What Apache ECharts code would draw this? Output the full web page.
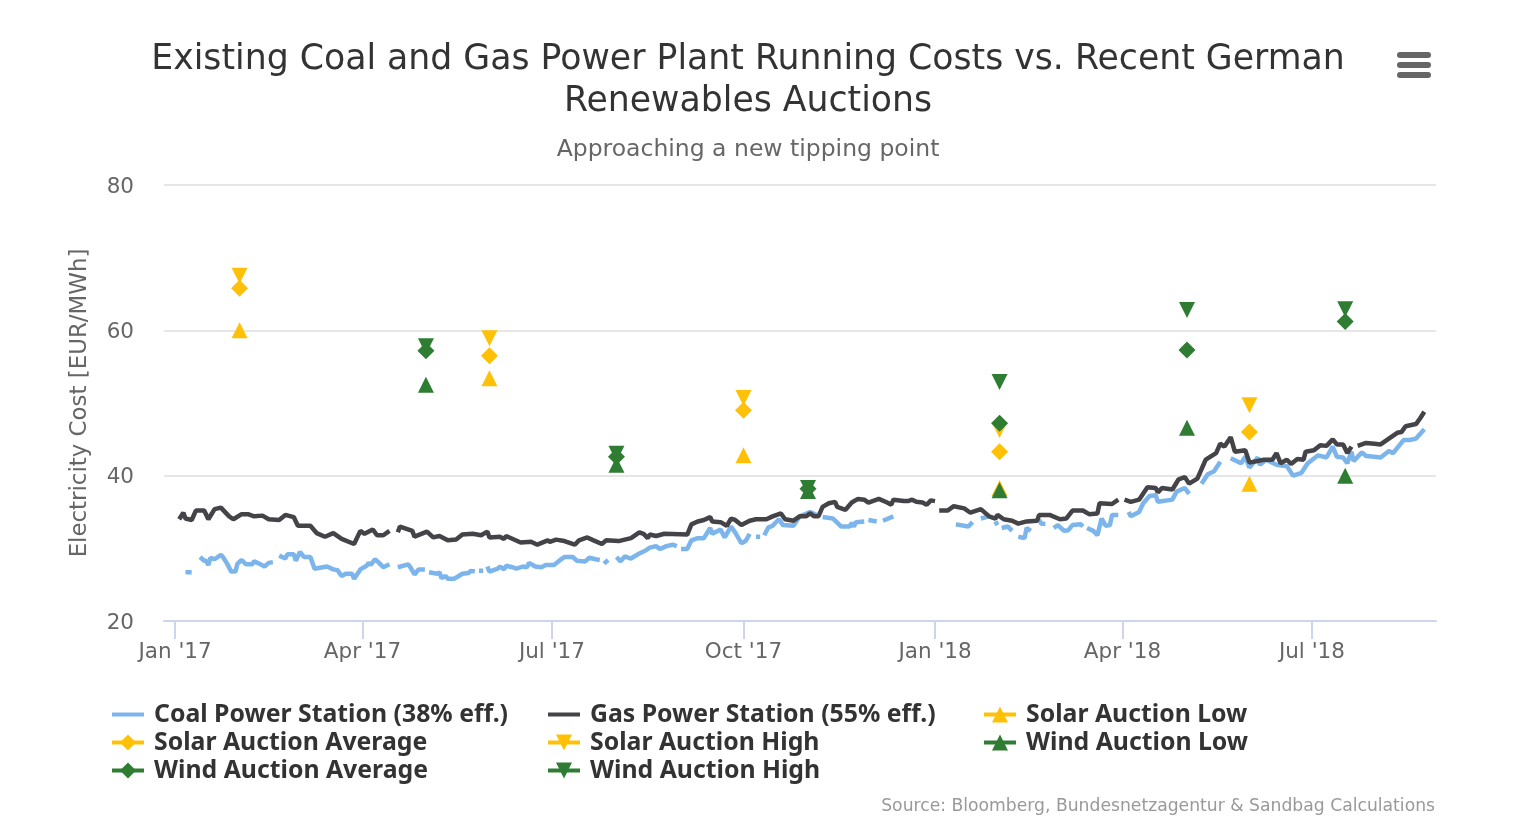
<!DOCTYPE html>
<html>
<head>
<meta charset="utf-8">
<title>Coal and Gas Running Costs vs. German Renewables Auctions</title>
<script src="https://cdn.jsdelivr.net/npm/echarts@6/dist/echarts.min.js"></script>
<style>
  html, body { margin: 0; padding: 0; background: #fff; }
  #main { width: 1534px; height: 828px; }
</style>
</head>
<body>
<div id="main"></div>
<script>
// [days since 1 Jan 2017, EUR/MWh], null = hole in the line
var coalCost = [[5,26.7],[8,26.7],[9,null],[12,28.8],[14,28.3],[15,28.3],[16,27.7],[17,28.7],[19,28.5],[22,29.1],[23,28.8],[25,27.9],[27,26.8],[29,26.8],[30,27.9],[32,28.4],[34,27.8],[37,27.8],[38,28.2],[41,27.8],[43,27.5],[45,28],[47,28.1],[48,null],
  [50,29],[53,28.6],[54,29.2],[57,29.2],[58,28.3],[60,29.5],[62,28.8],[65,28.8],[67,27.2],[73,27.5],[76,27.1],[78,27],[80,26.2],[82,26.5],[85,26.5],[86,25.8],[89,27.1],[92,27.6],[93,28],[94,27.7],[96,28.5],[98,28],[100,27.4],[103,27.8],[105,null],
  [107,27.4],[112,27.8],[113,27.4],[115,26.4],[117,27.1],[120,27.1],[121,null],[122,26.7],[126,26.5],[127,26.7],[128,25.9],[130,26.2],[131,25.8],[134,25.8],[138,26.5],[141,26.6],[142,26.9],[144,26.8],[145,null],[146,26.9],[148,26.9],[149,null],
  [150,27.5],[151,26.8],[155,27.2],[156,27.5],[158,27.1],[159,27.6],[162,27.4],[164,27.2],[167,27.5],[169,27.4],[170,28],[173,27.5],[176,27.4],[178,27.7],[182,27.7],[185,28.4],
  [187,28.8],[191,28.8],[193,28.3],[197,28.2],[199,28.7],[202,28.5],[204,28.4],[205,null],[206,27.9],[208,28.4],[209,null],[212,28.8],[214,28.2],[216,28.9],[219,28.6],[223,29.3],[226,29.7],[228,30.1],[231,30.3],[233,29.9],[236,30.3],[239,30.5],[241,30.3],[242,null],
  [243,29.9],[246,29.9],[248,31.1],[251,31.4],[254,31.4],[257,32.8],[258,32],[262,32.6],[264,31.5],[267,33],[269,32.2],[272,30.7],[274,31],[276,32],[277,null],[279,31.6],[281,31.6],[282,null],[283,31.8],[285,32.9],[287,33.1],[290,34],[292,33.2],[297,33.1],[300,34.4],[305,35],[308,34.6],[309,null],
  [311,34.3],[316,34.1],[320,33],[324,33],[325,33.5],[326,33],[327,33.6],[331,33.7],[332,null],[333,33.9],[337,33.7],[338,null],[340,33.8],[345,34.4],[346,null],
  [372,33.8],[373,null],[375,33.3],[379,33.1],[381,33],[383,33.6],[384,null],[387,34.1],[391,34.4],[392,null],[394,33.7],[395,33.2],[396,null],[397,32.8],[400,33],[402,32.4],[403,null],[405,31.6],[408,31.4],[409,32.8],[411,32.4],[412,null],
  [415,33.9],[416,33.4],[418,33.4],[419,null],[422,32.8],[424,33.2],[427,32.4],[429,32.5],[431,33.2],[435,33.3],[436,33],[437,null],[438,32.8],[441,32.4],[443,31.8],[445,34.1],[447,33.1],[449,33.2],[450,34.6],[453,34.6],[454,null],
  [458,35],[459,34.4],[463,35],[465,36.2],[468,37.2],[471,37.3],[472,36.4],[479,36.7],[481,37.8],[485,38.3],[487,37.5],[488,null],[493,38.9],[496,40.2],[499,40.6],[502,41.9],[503,null],
  [507,42.4],[512,41.7],[514,42.6],[516,41.1],[520,42.5],[521,41.5],[524,42.2],[529,41.5],[534,41.3],[537,40],[541,40.4],[544,41.7],[549,42.8],[553,42.5],[556,44],[558,42.6],[561,42.5],[563,41.7],[565,43.3],[566,42],[570,43.2],[572,42.7],[576,42.6],[579,42.5],[583,43.4],[585,43.1],[590,44.9],[593,44.9],[596,45.1],[600,46.4]];

var gasCost = [[2,34],[4,34.9],[5,34.1],[8,33.9],[10,35.2],[14,35.2],[16,34],[19,35.4],[22,35.6],[26,34.4],[28,34],[32,34.7],[35,34.7],[38,34.4],[42,34.5],[45,34],[50,33.9],[53,34.6],[57,34.3],[59,33.1],[65,33.1],[68,32.1],[72,31.6],[76,32.1],[80,31.3],[86,30.6],[89,32.4],[91,32],[95,32.6],[97,31.8],[100,31.8],[103,32.4],[105,null],
  [107,32.2],[108,33],[114,32.4],[115,31.6],[121,32.3],[124,31.5],[127,31.7],[131,31.1],[135,31.2],[138,31.9],[143,32],[147,31.8],[150,32.3],[151,31.5],[156,31.6],[158,31.3],[159,31.7],[166,30.8],[171,30.9],[174,30.5],[179,31.1],[180,30.9],[183,31.2],[187,31],[192,30.5],[194,31.1],[198,31.5],[201,31.1],[205,30.6],[207,31.1],[213,31],[219,31.4],[223,32.2],[225,32],[227,31.4],[228,31.9],[231,31.7],[235,32],[246,31.9],[248,33.3],[251,33.7],[254,33.9],[257,34.3],[258,33.7],[262,33.6],[265,33.1],[267,34.1],[269,33.9],[272,33.2],[276,33.8],[279,34],[284,34],[287,34.4],[291,34.8],[293,34],[297,33.8],[300,34.4],[303,34.4],[305,34.8],[307,34.4],[309,34.4],[311,35.7],[314,36.2],[317,36.4],[318,35.7],[322,35.3],[325,36.3],[328,36.8],[331,36.7],[333,36.3],[338,36.8],[342,36.3],[344,36],[345,36.7],[350,36.5],[352,36.5],[354,36.7],[356,36.4],[359,36.3],[361,36],[363,36.6],[365,36.5],[366,null],
  [367,35.2],[371,35.2],[374,35.8],[379,35.5],[382,34.9],[387,35.4],[391,34.4],[394,34.1],[395,34.6],[398,34],[402,33.8],[405,33.4],[409,33.7],[414,33.8],[415,34.6],[420,34.6],[425,34],[428,34.1],[431,35.2],[436,35.2],[439,34.7],[443,34.8],[444,36.2],[450,36.1],[453,36.7],[455,null],
  [456,36.7],[459,36.4],[463,36.7],[467,38.4],[471,38.3],[472,37.7],[474,38.3],[479,38.1],[482,39.5],[485,39.8],[487,38.9],[491,39.6],[495,42.2],[500,43.1],[502,44.4],[504,44],[507,45.3],[509,43.3],[514,43.5],[516,41.8],[523,42.2],[527,42.2],[529,43.1],[531,41.7],[534,42.2],[536,41.6],[539,42.3],[542,42.2],[543,43.3],[547,43.5],[550,44.2],[553,44.1],[556,45],[558,44.3],[561,44.3],[563,43.1],[565,44],[567,null],
  [568,44.1],[572,44.5],[576,44.4],[579,44.3],[584,45.3],[587,45.9],[589,46],[591,46.8],[596,47.1],[598,47.9],[600,48.8]];

// auction rounds, days since 1 Jan 2017
var solarRounds = [31, 151, 273, 396, 516];
var solarLow = [60, 53.4, 42.8, 38.3, 38.9];
var solarAverage = [65.8, 56.5, 49, 43.3, 46];
var solarHigh = [67.5, 58.9, 50.7, 46.3, 49.7];
var windRounds = [120.5, 212, 304, 396, 486, 562];
var windLow = [52.5, 41.5, 37.9, 38, 46.6, 40];
var windAverage = [57.2, 42.6, 38.2, 47.2, 57.3, 61.2];
var windHigh = [57.8, 43, 38.3, 52.9, 62.8, 62.9];

var tickDates = ['2017-01-01', '2017-04-01', '2017-07-01', '2017-10-01', '2018-01-01', '2018-04-01', '2018-07-01'];
var monthNames = ['Jan', 'Feb', 'Mar', 'Apr', 'May', 'Jun', 'Jul', 'Aug', 'Sep', 'Oct', 'Nov', 'Dec'];

var fontName = 'DejaVu Sans';
var coalColor = '#7cb5ec', gasColor = '#434348', solarColor = '#ffc107', windColor = '#2e7d32';
var triangleDown = 'path://M0,0 L10,0 L5,10 Z';
var plainLine = 'path://M0,0 L32,0 L32,4 L0,4 Z';
var dayMs = 86400000;
var startMs = Date.UTC(2017, 0, 1);
var tickTimes = tickDates.map(function (d) { return Date.parse(d); });

function toTime(day) {
  return startMs + day * dayMs;
}
function lineData(rows) {
  return rows.map(function (r) { return [toTime(r[0]), r[1]]; });
}
function pointData(days, values) {
  return days.map(function (d, i) { return [toTime(d), values[i]]; });
}
function lineSeries(name, rows, color) {
  return {
    name: name, type: 'line', data: lineData(rows), showSymbol: false, symbol: 'none',
    connectNulls: false, animation: false,
    lineStyle: { color: color, width: 4.5 }, itemStyle: { color: color }
  };
}
function markSeries(name, days, values, color, symbol, size) {
  return {
    name: name, type: 'line', data: pointData(days, values), symbol: symbol, symbolSize: size,
    showSymbol: true, animation: false,
    lineStyle: { color: color, width: 4, opacity: 0 }, itemStyle: { color: color }
  };
}
function legendColumn(left, rows) {
  return {
    left: left, top: 697, orient: 'vertical', itemWidth: 32, itemHeight: 20, itemGap: 3,
    selectedMode: false,
    textStyle: { fontFamily: 'Noto Sans', fontSize: 24.8, fontWeight: 'bold', color: '#333', lineHeight: 22, padding: [0, 0, 0, 5] },
    data: rows.map(function (r) {
      var item = { name: r[0], lineStyle: { color: r[1], width: 4, opacity: 1 } };
      if (r[2]) {
        item.icon = r[2];
      }
      return item;
    })
  };
}

var chart = echarts.init(document.getElementById('main'));
chart.setOption({
  backgroundColor: '#fff',
  animation: false,
  title: {
    text: 'Existing Coal and Gas Power Plant Running Costs vs. Recent German\nRenewables Auctions',
    subtext: 'Approaching a new tipping point',
    left: 743, top: 34, textAlign: 'center', itemGap: 15,
    textStyle: { fontFamily: fontName, fontSize: 34.7, fontWeight: 'normal', color: '#333', lineHeight: 42 },
    subtextStyle: { fontFamily: fontName, fontSize: 23.5, color: '#666' }
  },
  legend: [
    legendColumn(105, [['Coal Power Station (38% eff.)', coalColor, plainLine], ['Solar Auction Average', solarColor], ['Wind Auction Average', windColor]]),
    legendColumn(541, [['Gas Power Station (55% eff.)', gasColor, plainLine], ['Solar Auction High', solarColor], ['Wind Auction High', windColor]]),
    legendColumn(977, [['Solar Auction Low', solarColor], ['Wind Auction Low', windColor]])
  ],
  grid: { left: 164, right: 98, top: 185, bottom: 207 },
  xAxis: {
    type: 'value',
    min: toTime(-5.3),
    max: toTime(605.6),
    axisLine: { lineStyle: { color: '#ccd6eb', width: 2 } },
    axisTick: { show: true, length: 18, lineStyle: { color: '#ccd6eb', width: 2 }, customValues: tickTimes },
    splitLine: { show: false },
    axisLabel: {
      fontFamily: fontName, fontSize: 21.5, color: '#666', margin: 20, hideOverlap: false,
      customValues: tickTimes,
      formatter: function (v) {
        var d = new Date(v);
        return monthNames[d.getUTCMonth()] + " '" + String(d.getUTCFullYear()).slice(2);
      }
    }
  },
  yAxis: {
    type: 'value', min: 20, max: 80, interval: 20,
    name: 'Electricity Cost [EUR/MWh]', nameLocation: 'middle', nameGap: 72,
    nameTextStyle: { fontFamily: fontName, fontSize: 22.9, color: '#666' },
    axisLine: { show: false }, axisTick: { show: false },
    splitLine: { lineStyle: { color: '#e6e6e6', width: 2 } },
    axisLabel: { fontFamily: fontName, fontSize: 21.5, color: '#666', margin: 30, verticalAlign: 'top', padding: [-9, 0, 0, 0] }
  },
  graphic: [
    { type: 'text', right: 99, top: 798, style: { text: 'Source: Bloomberg, Bundesnetzagentur & Sandbag Calculations', font: '17.2px "DejaVu Sans"', fill: '#999' } },
    { type: 'rect', left: 1397, top: 52, shape: { width: 34, height: 6, r: 3 }, style: { fill: '#666' } },
    { type: 'rect', left: 1397, top: 62, shape: { width: 34, height: 6, r: 3 }, style: { fill: '#666' } },
    { type: 'rect', left: 1397, top: 72, shape: { width: 34, height: 6, r: 3 }, style: { fill: '#666' } }
  ],
  series: [
    lineSeries('Coal Power Station (38% eff.)', coalCost, coalColor),
    lineSeries('Gas Power Station (55% eff.)', gasCost, gasColor),
    markSeries('Solar Auction Low', solarRounds, solarLow, solarColor, 'triangle', 16),
    markSeries('Solar Auction Average', solarRounds, solarAverage, solarColor, 'diamond', 17),
    markSeries('Solar Auction High', solarRounds, solarHigh, solarColor, triangleDown, 16),
    markSeries('Wind Auction Low', windRounds, windLow, windColor, 'triangle', 16),
    markSeries('Wind Auction Average', windRounds, windAverage, windColor, 'diamond', 17),
    markSeries('Wind Auction High', windRounds, windHigh, windColor, triangleDown, 16)
  ]
});
</script>
</body>
</html>
